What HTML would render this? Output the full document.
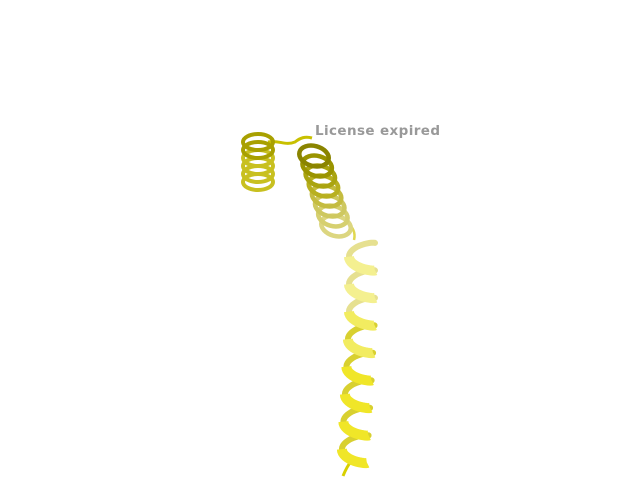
<!DOCTYPE html>
<html><head><meta charset="utf-8"><style>
html,body{margin:0;padding:0;background:#fff;width:640px;height:480px;overflow:hidden}
svg{display:block}
</style></head><body>
<svg id="s" width="640" height="480">
<text x="315" y="135" font-family="'DejaVu Sans', 'Liberation Sans', sans-serif" font-weight="bold" font-size="13.5" fill="#999" textLength="125">License expired</text>
<path d="M268,142 C280,140 285,146 295,142 C300,138 305,136 312,138" fill="none" stroke="#c8c000" stroke-width="3"/>
<path d="M346,222 C352,226 356,232 354,240" fill="none" stroke="#e0d850" stroke-width="2.5"/>
<path d="M352,460 C348,465 345,471 343,476" fill="none" stroke="#d8d000" stroke-width="3"/>
<g id="h1"></g>
<g id="h2"></g>
<g id="h3"></g>
</svg>
<script>
const ns="http://www.w3.org/2000/svg";
function el(g,tag,a){const e=document.createElementNS(ns,tag);for(const k in a)e.setAttribute(k,a[k]);g.appendChild(e);return e;}
const h1=document.getElementById('h1');
for(let i=5;i>=0;i--){
  const y=142+i*8, c=i<2?'#a8a000':'#c8c020';
  const e=el(h1,'ellipse',{cx:258,cy:y,rx:15,ry:8,fill:'none',stroke:c,'stroke-width':4});
  
  
}
const h2=document.getElementById('h2');
for(let i=7;i>=0;i--){
  const t=i/7, x=314+t*22, y=156+t*70;
  const c=['#8a8400','#9a9400','#aaa410','#b8b020','#c4bc40','#cec860','#d6d070','#dcd680'][i];
  const e=el(h2,'ellipse',{cx:x,cy:y,rx:15,ry:10,fill:'none',stroke:c,'stroke-width':4.5,transform:`rotate(15 ${x} ${y})`});
  
  
}
const h3=document.getElementById('h3');
const turns=8, y0=236, pitch=27.5, A=13;
function pt(t){const f=t/(2*Math.PI);const cx=362-Math.max(0,f-3)*1.5;return [cx+A*Math.sin(t), y0+pitch*f+5*Math.cos(t)];}
function seg(t0,t1){let d='';for(let k=0;k<=16;k++){const t=t0+(t1-t0)*k/16;const p=pt(t);d+=(k?'L':'M')+p[0].toFixed(1)+','+p[1].toFixed(1);}return d;}
for(let i=0;i<turns;i++){
  const b=Math.PI*2*i;
  const p=el(h3,'path',{d:seg(b+Math.PI/2,b+1.5*Math.PI),fill:'none',stroke:i<3?'#e6e090':'#d8d030','stroke-width':6,'stroke-linecap':'round'});
  
  
}
for(let i=0;i<turns;i++){
  const b=Math.PI*2*i;
  const c=i<2?'#f4f090':(i<4?'#f2ec60':'#f0e628');
  const p=el(h3,'path',{d:seg(b+1.5*Math.PI,b+2.5*Math.PI),fill:'none',stroke:c,'stroke-width':10,'stroke-linecap':'butt'});
  
  
}
</script>
</body></html>
